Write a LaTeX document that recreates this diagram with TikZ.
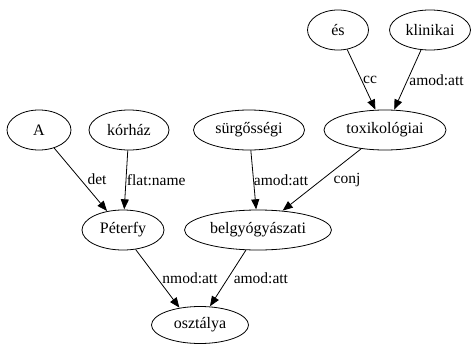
\documentclass[tikz,border=0pt]{standalone}
\usepackage{fontspec}
\setmainfont{Liberation Serif}
\usetikzlibrary{shapes.geometric,arrows.meta}

\tikzset{
  tok/.style={draw, ellipse, line width=0.8pt, inner sep=0pt,
              minimum height=40pt, font=\fontsize{16}{19}\selectfont},
  dep/.style={draw, line width=0.8pt,
              -{Triangle[length=10pt,width=8pt]}, shorten >=0.3pt},
  lbl/.style={right, inner sep=1.5pt, font=\fontsize{15.5}{18}\selectfont},
}

\begin{document}
\begin{tikzpicture}[x=1pt, y=-1pt]
  \useasboundingbox (0,0) rectangle (473,345);

  % tokens
  \node[tok, minimum width=61pt]  (es)    at (338,30)  {és};
  \node[tok, minimum width=81pt]  (klin)  at (430,30)  {klinikai};
  \node[tok, minimum width=122pt] (toxi)  at (385,130) {toxikológiai};
  \node[tok, minimum width=111pt] (surg)  at (249,130) {sürgősségi};
  \node[tok, minimum width=64pt]  (a)     at (39,130)  {A};
  \node[tok, minimum width=80pt]  (korh)  at (129,130) {kórház};
  \node[tok, minimum width=82pt]  (peter) at (123,230) {Péterfy};
  \node[tok, minimum width=147pt] (belgy) at (258,230) {belgyógyászati};
  \node[tok, minimum width=97pt, minimum height=37pt] (oszt) at (200,325) {osztálya};

  % dependency arcs
  \draw[dep] (es)    -- node[lbl, pos=0.5] {cc}                    (toxi);
  \draw[dep] (klin)  -- node[lbl, pos=0.5] {amod:att}              (toxi);
  \draw[dep] (a)     -- node[lbl, pos=0.5, xshift=5pt] {det}       (peter);
  \draw[dep] (korh)  -- node[lbl, pos=0.5, xshift=-1pt] {flat:name} (peter);
  \draw[dep] (surg)  -- node[lbl, pos=0.5, xshift=-1.5pt] {amod:att} (belgy);
  \draw[dep] (toxi)  -- node[lbl, pos=0.5, xshift=10pt] {conj}     (belgy);
  \draw[dep] (peter.-57)  -- node[lbl, pos=0.5, xshift=3pt] {nmod:att} (oszt.140);
  \draw[dep] (belgy.-121) -- node[lbl, pos=0.5, xshift=4pt] {amod:att} (oszt.62);
\end{tikzpicture}
\end{document}
